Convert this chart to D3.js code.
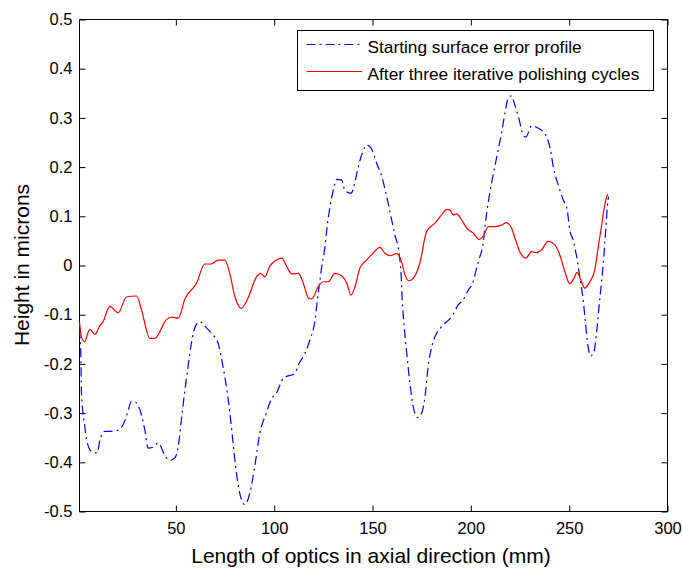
<!DOCTYPE html>
<html>
<head>
<meta charset="utf-8">
<script src="https://cdn.jsdelivr.net/npm/d3@7"></script>
<style>
  html, body { margin: 0; padding: 0; background: #fff; }
  svg { display: block; }
</style>
</head>
<body>
<div id="chart"></div>
<script>
// surface profiles (x in mm, y in microns)
const xStart = [1, 1.7, 2, 3.7, 4.6, 7.1, 10, 11.4, 13.9, 16.4, 20.3, 23.2, 25.4, 27.4, 29.5, 31.7, 34.2, 35.9, 38, 41, 44.7, 46.9, 49.5, 51.2, 52.8, 54.6, 56.2, 57.9, 59.6, 62.2, 64.7, 68.1, 71.5, 73.2, 74.9, 77.4, 79.1, 80.8, 82.5, 85, 87.6, 90.1, 92.7, 96, 98.4, 101.3, 104.7, 110.6, 112.3, 115.7, 118.2, 120.8, 121.6, 124.2, 125.8, 126.7, 128.4, 130.1, 131.8, 134.3, 136, 139.1, 141.1, 142.8, 144.8, 147, 149.2, 152.1, 154.7, 157.2, 159.4, 161.4, 163.5, 164.5, 165.1, 166.1, 167.4, 169, 170.7, 172.9, 175, 176.7, 178.3, 180.1, 182.6, 186, 190.2, 193.6, 196.1, 198.7, 201.2, 202.5, 204.6, 206, 207.6, 208.8, 210.5, 212.2, 213.9, 215.6, 217.3, 219, 220.7, 222.4, 224.6, 226.6, 228, 230.9, 234.3, 236.8, 238.8, 240.5, 241.9, 244.4, 247, 249, 250.3, 252, 253.8, 255.4, 257.1, 258, 258.8, 259.6, 260.9, 262.6, 263.9, 265.2, 266.4, 267.6, 268.6, 269.5, 270];
const yStart = [-0.13, -0.185, -0.26, -0.327, -0.354, -0.378, -0.381, -0.354, -0.337, -0.337, -0.335, -0.323, -0.30, -0.276, -0.278, -0.293, -0.334, -0.371, -0.37, -0.361, -0.388, -0.396, -0.391, -0.368, -0.314, -0.253, -0.205, -0.158, -0.127, -0.114, -0.123, -0.138, -0.158, -0.189, -0.226, -0.297, -0.361, -0.422, -0.463, -0.486, -0.463, -0.409, -0.341, -0.30, -0.273, -0.258, -0.229, -0.219, -0.202, -0.178, -0.151, -0.11, -0.083, -0.002, 0.038, 0.072, 0.12, 0.154, 0.175, 0.174, 0.152, 0.147, 0.171, 0.201, 0.228, 0.245, 0.239, 0.208, 0.181, 0.14, 0.099, 0.062, 0.025, -0.016, -0.07, -0.124, -0.178, -0.239, -0.287, -0.309, -0.30, -0.266, -0.205, -0.165, -0.138, -0.121, -0.104, -0.08, -0.07, -0.05, -0.033, -0.012, 0.018, 0.038, 0.093, 0.127, 0.167, 0.201, 0.235, 0.269, 0.309, 0.34, 0.345, 0.326, 0.296, 0.265, 0.261, 0.284, 0.279, 0.272, 0.259, 0.235, 0.201, 0.164, 0.133, 0.113, 0.072, 0.052, 0.018, -0.023, -0.07, -0.104, -0.138, -0.165, -0.184, -0.175, -0.138, -0.083, -0.036, 0.018, 0.072, 0.123, 0.14];

const xAfter = [1, 2, 3.7, 5, 6.3, 8.8, 11, 13, 16.4, 20.7, 24.9, 30, 32.5, 36.8, 39.3, 45.2, 47.7, 51.2, 54.6, 60.5, 64.7, 68.1, 71.5, 74.9, 77.4, 80, 83.3, 86.7, 91, 93.2, 95.2, 97.7, 101.1, 103.8, 106.4, 108.9, 112.3, 114.8, 117.4, 119.1, 122.4, 125, 127.5, 130.9, 134.3, 136.9, 139.1, 141.1, 143.6, 147, 149.6, 153.8, 156.3, 158.9, 162.3, 164.5, 166.5, 168.5, 170.7, 174.1, 177.5, 181.7, 185.1, 187.7, 189.3, 191, 192.8, 195.3, 197.9, 201.2, 204.3, 206.3, 208.8, 212.2, 215.6, 218.2, 220.7, 222.4, 224.9, 228, 230.9, 233.4, 236, 239.3, 242.7, 245.2, 247.8, 250.3, 252.4, 254, 255.9, 257.9, 260.5, 263, 264.6, 266.4, 268.1, 269.5];
const yAfter = [-0.115, -0.145, -0.155, -0.14, -0.13, -0.14, -0.125, -0.114, -0.083, -0.096, -0.064, -0.062, -0.09, -0.148, -0.148, -0.11, -0.105, -0.107, -0.068, -0.036, 0.003, 0.003, 0.011, 0.011, -0.016, -0.063, -0.087, -0.066, -0.023, -0.016, -0.023, -0.002, 0.011, 0.015, -0.002, -0.017, -0.016, -0.036, -0.066, -0.068, -0.043, -0.033, -0.033, -0.016, -0.021, -0.036, -0.06, -0.043, -0.005, 0.011, 0.022, 0.037, 0.025, 0.02, 0.024, 0.011, -0.019, -0.031, -0.026, 0.005, 0.069, 0.086, 0.103, 0.114, 0.113, 0.103, 0.105, 0.093, 0.076, 0.066, 0.053, 0.059, 0.079, 0.079, 0.082, 0.087, 0.076, 0.056, 0.028, 0.015, 0.028, 0.026, 0.032, 0.049, 0.042, 0.022, -0.012, -0.037, -0.026, -0.014, -0.029, -0.046, -0.033, -0.009, 0.032, 0.079, 0.123, 0.145];

const xTicks = [50, 100, 150, 200, 250, 300];
const yTicks = [-0.5, -0.4, -0.3, -0.2, -0.1, 0, 0.1, 0.2, 0.3, 0.4, 0.5];
const seriesNames = ["Starting surface error profile", "After three iterative polishing cycles"];

const width = 683;
const height = 569;
const plotL = 79.5, plotR = 667.5, plotT = 19.5, plotB = 511.5;
const font = "'Liberation Sans', Arial, Helvetica, sans-serif";

const svg = d3.select("#chart").append("svg")
  .attr("width", width)
  .attr("height", height)
  .style("font-family", font);

const x = d3.scaleLinear().domain([1, 300]).range([plotL, plotR]);
const y = d3.scaleLinear().domain([-0.5, 0.5]).range([plotB, plotT]);

const tickLen = 6;
const yFmt = d => d === 0 ? "0" : d3.format(".1f")(d).replace("−", "-");

// axes (ticks point inward, like the original)
const gxb = svg.append("g").attr("transform", `translate(0,${plotB})`)
  .call(d3.axisBottom(x).tickValues(xTicks).tickSize(-tickLen).tickPadding(10.5).tickFormat(d3.format("d")));
const gxt = svg.append("g").attr("transform", `translate(0,${plotT})`)
  .call(d3.axisTop(x).tickValues(xTicks).tickSize(-tickLen).tickFormat(""));
const gyl = svg.append("g").attr("transform", `translate(${plotL},0)`)
  .call(d3.axisLeft(y).tickValues(yTicks).tickSize(-tickLen).tickPadding(7).tickFormat(yFmt));
const gyr = svg.append("g").attr("transform", `translate(${plotR},0)`)
  .call(d3.axisRight(y).tickValues(yTicks).tickSize(-tickLen).tickFormat(""));

[gxb, gxt, gyl, gyr].forEach(g => {
  g.select(".domain").remove();
  g.selectAll("line").attr("stroke", "#000");
  g.selectAll("text").attr("fill", "#000").style("font-size", "16.5px").style("font-family", font);
});

// plot box
svg.append("rect")
  .attr("x", plotL).attr("y", plotT)
  .attr("width", plotR - plotL).attr("height", plotB - plotT)
  .attr("fill", "none").attr("stroke", "#000").attr("stroke-width", 1);

const line = d3.line()
  .x(d => x(d[0]))
  .y(d => y(d[1]))
  .curve(d3.curveMonotoneX);

const startPts = xStart.map((v, i) => [v, yStart[i]]);
const afterPts = xAfter.map((v, i) => [v, yAfter[i]]);

const dashDot = "9,4,2,4";

svg.append("path")
  .datum(startPts)
  .attr("fill", "none")
  .attr("stroke", "#0000ff")
  .attr("stroke-width", 1.2)
  .attr("stroke-dasharray", dashDot)
  .attr("d", line);

svg.append("path")
  .datum(afterPts)
  .attr("fill", "none")
  .attr("stroke", "#ff0000")
  .attr("stroke-width", 1.2)
  .attr("d", line);

// legend
const lg = svg.append("g");
lg.append("rect")
  .attr("x", 297.5).attr("y", 30.5).attr("width", 356).attr("height", 60)
  .attr("fill", "#fff").attr("stroke", "#000").attr("stroke-width", 1);
const legendRows = [
  { name: seriesNames[0], color: "#0000ff", dash: dashDot, ly: 44.5 },
  { name: seriesNames[1], color: "#ff0000", dash: null, ly: 71.5 }
];
legendRows.forEach(r => {
  lg.append("line")
    .attr("x1", 306.5).attr("x2", 362).attr("y1", r.ly).attr("y2", r.ly)
    .attr("stroke", r.color).attr("stroke-width", 1.2)
    .attr("stroke-dasharray", r.dash);
  lg.append("text")
    .attr("x", 367.5).attr("y", r.ly + 8)
    .attr("font-size", "17.3px")
    .attr("fill", "#000")
    .text(r.name);
});

// axis labels
svg.append("text")
  .attr("x", 371).attr("y", 563)
  .attr("text-anchor", "middle")
  .attr("font-size", "21px")
  .attr("fill", "#000")
  .text("Length of optics in axial direction (mm)");

svg.append("text")
  .attr("transform", "translate(29,265) rotate(-90)")
  .attr("text-anchor", "middle")
  .attr("font-size", "21px")
  .attr("fill", "#000")
  .text("Height in microns");
</script>
</body>
</html>
